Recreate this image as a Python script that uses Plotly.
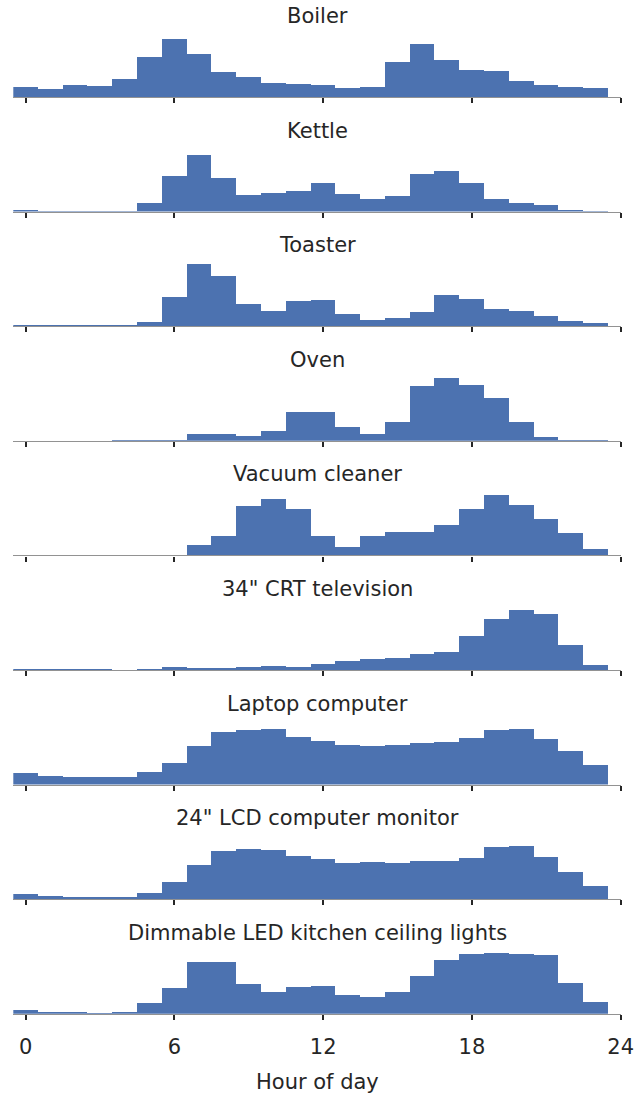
import plotly.graph_objects as go

hours = list(range(24))
appliances = ["Boiler", "Kettle", "Toaster", "Oven", "Vacuum cleaner",
              "34\" CRT television", "Laptop computer",
              "24\" LCD computer monitor", "Dimmable LED kitchen ceiling lights"]

boiler = [10, 8, 12, 11, 18, 40, 58, 43, 25, 20, 14, 13, 12, 9, 10, 35, 53, 37, 27, 26, 16, 12, 10, 9]
kettle = [1.3, 0.3, 0.3, 1, 1, 8.7, 35.7, 57.3, 34.3, 17.3, 19.3, 21.3, 29.3, 18.3, 13.3, 16.3, 38.3, 41.3, 29.3, 13.3, 9.3, 7.3, 2.3, 1]
toaster = [0.3, 0.3, 0.3, 0.3, 0.3, 4.3, 29.3, 62.3, 50.3, 22.3, 15.3, 25.3, 26.3, 12.3, 6.3, 8.3, 14.3, 31.3, 27.3, 17.3, 15.3, 10.3, 5.3, 3.3]
oven = [0, 0, 0, 0, 0.5, 0.3, 0.6, 6.7, 6.7, 4.7, 9.7, 28.7, 28.7, 13.7, 6.7, 18.7, 54.7, 62.7, 55.7, 42.7, 18.7, 3.7, 0.7, 0.3]
vacuum = [0, 0, 0, 0, 0, 0, 0, 10, 19, 49, 56, 46, 19, 8, 19, 23, 23, 30, 46, 60, 50, 36, 22, 6]
crt_tv = [1, 0.2, 0.2, 0.2, 0, 0.7, 3, 2, 2, 3, 4, 3, 6, 9, 11, 12, 16, 18, 34.3, 51, 60, 56, 25, 5]
laptop = [11.7, 8.7, 7.7, 7.7, 7.7, 12.7, 21.7, 38.7, 52.7, 54.7, 55.7, 47.7, 43.7, 39.7, 38.7, 39.7, 41.7, 42.7, 46.7, 54.7, 55.7, 45.7, 33.7, 19.7]
lcd_monitor = [4.7, 2.7, 1.7, 1.7, 1.7, 5.7, 16.7, 33.7, 47.7, 49.7, 48.7, 42.7, 39.7, 35.7, 36.7, 35.7, 37.7, 37.7, 40.7, 51.7, 52.7, 41.7, 26.7, 12.7]
led_lights = [4, 2, 2, 1, 2, 11, 26, 52, 52, 30, 22, 27, 28, 19, 17, 22, 38, 54, 60, 61, 60, 59, 31, 12]

series = [boiler, kettle, toaster, oven, vacuum, crt_tv, laptop, lcd_monitor, led_lights]
tick_vals = [0, 6, 12, 18, 24]
tick_text = ["0", "6", "12", "18", "24"]
x_label = "Hour of day"

W, H = 635, 1097
BAR = "#4C72B0"
TXT = "#262626"
FONT = "DejaVu Sans"
FS = 21

x0_px, x1_px = 13.3, 620.7
base0, step = 97.0, 114.6
plot_h = 67.0
y_top_val = 67.0

fig = go.Figure()
annotations = []
n = len(series)
for i, (name, vals) in enumerate(zip(appliances, series)):
    k = "" if i == 0 else str(i + 1)
    b = base0 + step * i
    fig.add_trace(go.Bar(x=hours, y=vals, width=1, marker=dict(color=BAR, line=dict(width=0)),
                         xaxis="x" + k, yaxis="y" + k, showlegend=False, hoverinfo="x+y"))
    last = (i == n - 1)
    fig.layout["xaxis" + k] = dict(
        domain=[x0_px / W, x1_px / W], range=[-0.5, 24], anchor="y" + k,
        showgrid=False, zeroline=False, showline=True, automargin=False,
        linecolor="rgba(38,38,38,0.5)", linewidth=1.2,
        ticks="outside", ticklen=5, tickwidth=2, tickcolor=TXT,
        tickvals=tick_vals, ticktext=tick_text, showticklabels=last,
        tickfont=dict(family=FONT, size=FS, color=TXT),
        ticklabelstandoff=9, fixedrange=True,
    )
    fig.layout["yaxis" + k] = dict(
        domain=[1 - b / H, 1 - (b - plot_h) / H], range=[0, y_top_val], anchor="x" + k,
        visible=False, showgrid=False, zeroline=False, fixedrange=True, automargin=False,
    )
    annotations.append(dict(
        text=name, x=(x0_px + x1_px) / 2 / W, y=1 - (b - 81) / H,
        xref="paper", yref="paper", xanchor="center", yanchor="middle",
        showarrow=False, font=dict(family=FONT, size=FS, color=TXT),
    ))

annotations.append(dict(
    text=x_label, x=(x0_px + x1_px) / 2 / W, y=1 - 1082 / H,
    xref="paper", yref="paper", xanchor="center", yanchor="middle",
    showarrow=False, font=dict(family=FONT, size=FS, color=TXT),
))

fig.update_layout(
    width=W, height=H, margin=dict(l=0, r=0, t=0, b=0, autoexpand=False),
    paper_bgcolor="white", plot_bgcolor="white",
    bargap=0, annotations=annotations,
    font=dict(family=FONT, size=FS, color=TXT),
)

post = ("document.documentElement.style.margin='0';document.documentElement.style.padding='0';"
        "document.body.style.margin='0';document.body.style.padding='0';"
        "document.body.style.overflow='hidden';document.documentElement.style.overflow='hidden';")

fig.write_html("out.html", config={"responsive": False, "displayModeBar": False}, post_script=post)
